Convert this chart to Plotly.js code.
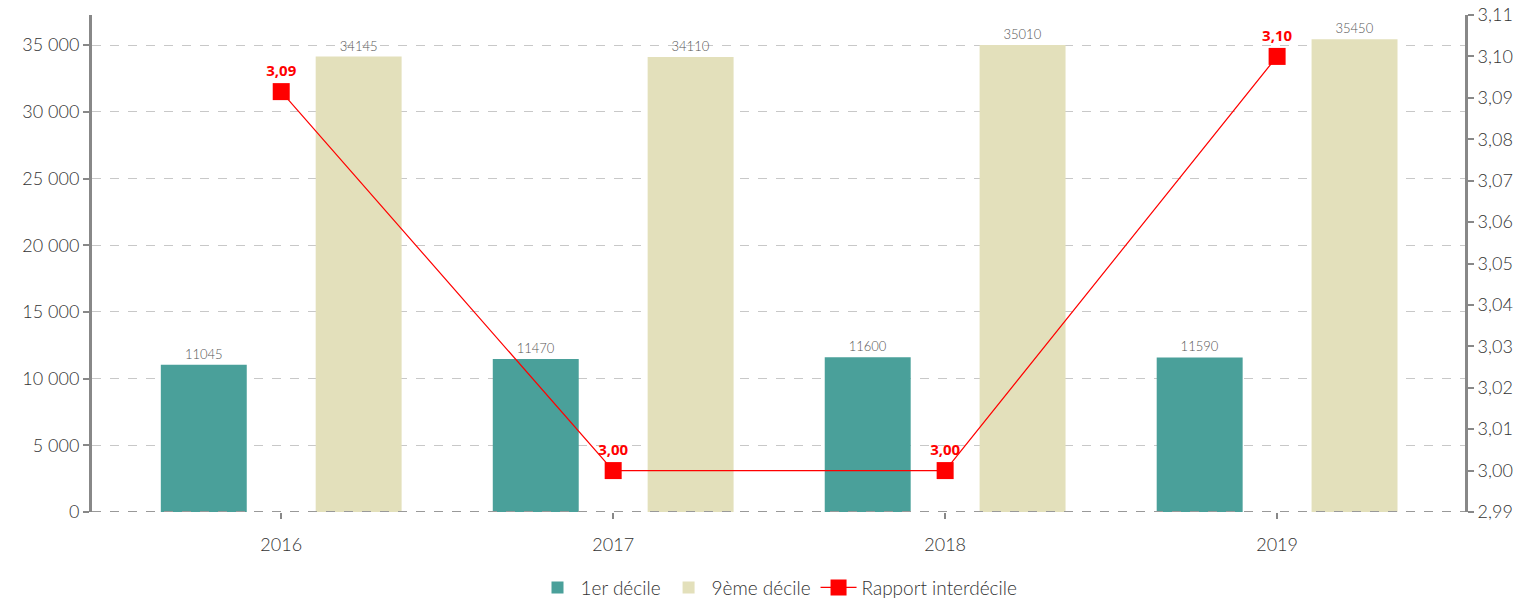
<!DOCTYPE html>
<html>
<head>
<meta charset="utf-8">
<script src="https://cdn.plot.ly/plotly-3.0.1.min.js"></script>
<style>
  html, body { margin: 0; padding: 0; background: #fff; }
  #chart { width: 1524px; height: 603px; }
</style>
</head>
<body>
<div id="chart"></div>
<script>
var years = ['2016', '2017', '2018', '2019'];
var decile1 = [11045, 11470, 11600, 11590];
var decile9 = [34145, 34110, 35010, 35450];
var ratio = [3.0915, 3.00, 3.00, 3.10];
var ratioLabels = ['3,09', '3,00', '3,00', '3,10'];

var d1 = {
  x: years,
  y: decile1,
  name: '1er décile',
  type: 'bar',
  marker: { color: '#4aa09a' },
  text: decile1.map(String),
  textposition: 'outside',
  cliponaxis: false,
  textfont: { size: 13, color: '#555' },
  hoverinfo: 'y'
};
var d9 = {
  x: years,
  y: decile9,
  name: '9ème décile',
  type: 'bar',
  marker: { color: '#e3e0bb' },
  text: decile9.map(String),
  textposition: 'outside',
  cliponaxis: false,
  textfont: { size: 13, color: '#555' },
  hoverinfo: 'y'
};
var r = {
  x: years,
  y: ratio,
  name: 'Rapport interdécile',
  type: 'scatter',
  mode: 'lines+markers+text',
  yaxis: 'y2',
  line: { color: '#ff0000', width: 1.2 },
  marker: { color: '#ff0000', symbol: 'square', size: 17 },
  text: ratioLabels,
  textposition: 'top center',
  textfont: { size: 15, color: '#ff0000', family: 'Open Sans', weight: 'bold' },
  cliponaxis: false
};

var data = [d1, d9, r];
var layout = {
  width: 1524,
  height: 603,
  margin: { l: 92, r: 59, t: 15, b: 91, autoexpand: false },
  font: { family: 'Lato, Open Sans, sans-serif', color: '#333', size: 18, weight: 300 },
  separators: ', ',
  barmode: 'group',
  bargap: 0.067,
  bargroupgap: 0.445,
  showlegend: true,
  legend: {
    orientation: 'h',
    x: 0.5, xanchor: 'center',
    y: -0.152, yanchor: 'middle',
    font: { size: 19, color: '#333', weight: 300 },
    traceorder: 'normal',
    itemwidth: 36
  },
  xaxis: {
    type: 'category',
    range: [-0.57, 3.566],
    showline: false,
    showgrid: false,
    ticks: 'outside',
    ticklen: 6,
    tickwidth: 2,
    tickcolor: '#888',
    ticklabelstandoff: 10,
    tickfont: { size: 18, color: '#333', weight: 300 },
    fixedrange: true
  },
  yaxis: {
    range: [0, 37260],
    tickvals: [0, 5000, 10000, 15000, 20000, 25000, 30000, 35000],
    tickformat: ',d',
    separatethousands: true,
    showline: true,
    linecolor: '#888',
    linewidth: 3,
    ticks: 'outside',
    ticklen: 6,
    tickwidth: 2,
    tickcolor: '#888',
    showgrid: true,
    gridcolor: '#c8c8c8',
    griddash: 'dash',
    gridwidth: 1,
    zeroline: false,
    tickfont: { size: 18, color: '#333', weight: 300 },
    fixedrange: true
  },
  yaxis2: {
    overlaying: 'y',
    side: 'right',
    range: [2.99, 3.11],
    dtick: 0.01,
    tick0: 2.99,
    tickformat: '.2f',
    showline: true,
    linecolor: '#888',
    linewidth: 3,
    ticks: 'outside',
    ticklen: 6,
    tickwidth: 2,
    tickcolor: '#888',
    showgrid: false,
    zeroline: false,
    tickfont: { size: 18, color: '#333', weight: 300 },
    fixedrange: true
  },
  shapes: [{
    type: 'line', xref: 'paper', yref: 'y',
    x0: 0, x1: 1, y0: 0, y1: 0,
    line: { color: '#999', width: 2, dash: 'dash' }
  }]
};

Plotly.newPlot('chart', data, layout, { displayModeBar: false, staticPlot: true });
</script>
</body>
</html>
